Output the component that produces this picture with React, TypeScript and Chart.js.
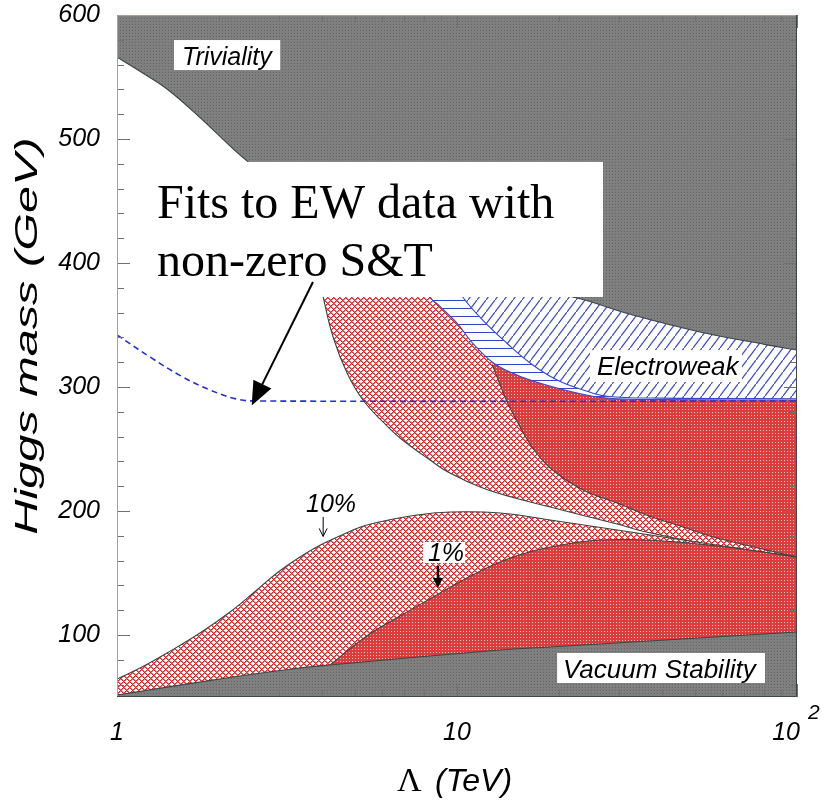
import React, { useEffect, useRef } from "react";
import { Chart, registerables } from "chart.js";
Chart.register(...registerables);

type Pt = [number, number];

// x: Λ (TeV), y: Higgs mass (GeV)
const TRIVIALITY: Pt[] = [[1, 566], [1.184, 553.6], [1.403, 540.3], [1.754, 517.3], [2.41, 482.3], [4.23, 430.6], [8.33, 396], [13.4, 382], [21.9, 372.6], [32.9, 358], [51.8, 344.4], [81.6, 334], [100, 329.8]];
const EW_UPPER: Pt[] = [[9.5, 392], [10.4, 372.6], [11.9, 354], [14.0, 335.5], [16.4, 319.4], [19.7, 305.6], [23.5, 297.6], [27.6, 292.5], [40, 291], [100, 290.5]];
const EW_LOWER: Pt[] = [[7.8, 390], [8.33, 372.6], [8.91, 365], [10.0, 351.6], [11.1, 335.5], [12.8, 319.4], [15.0, 309.7], [17.5, 303.2], [21.9, 296], [27.6, 291.1], [40, 289.8], [100, 289.5]];
const FINE_EDGE: Pt[] = [[12.7, 318], [13.4, 301.6], [14.0, 288.7], [15.0, 272.6], [16.7, 250.8], [18.8, 234.7], [23.5, 216.9], [29.6, 206.5], [36.0, 196.8], [46.2, 187.1], [58.2, 178.2], [100, 162.9]];
const EW_10PCT: Pt[] = [[3.96, 386], [4.04, 372.6], [4.32, 340.3], [4.75, 311.3], [5.29, 289.5], [6.06, 271.8], [6.80, 258.9], [8.33, 241.1], [9.53, 230.6], [11.9, 218.5], [15.0, 210.1], [18.8, 203.2], [23.5, 196.4], [29.6, 189.5], [36.0, 183.1], [58.2, 171.8], [100, 162.9]];
const VS_10PCT: Pt[] = [[1, 64.5], [1.184, 74.2], [1.403, 85.5], [1.754, 101.6], [2.19, 120.2], [2.547, 135.1], [2.955, 150], [3.383, 161.3], [3.87, 171], [4.59, 180.6], [5.43, 188.7], [7.63, 196.8], [9.53, 199.2], [13.4, 198.4], [18.8, 192.7], [29.6, 184.7], [46.2, 176.6], [72.7, 168.5], [100, 162.9]];
const VS_1PCT: Pt[] = [[4.23, 75.8], [5.43, 99.2], [6.80, 115.3], [8.50, 130.6], [10.7, 146], [13.4, 158.9], [16.7, 167.7], [21.07, 173.4], [26.3, 176.6], [36.0, 176.6], [58.2, 171.8], [100, 162.9]];
const VACUUM: Pt[] = [[1, 51.6], [2.19, 66.1], [3.45, 73.4], [4.23, 75.8], [13.4, 87.9], [18.8, 90.3], [100, 102.4]];
const EW_FIT: Pt[] = [[1, 342], [1.25, 324.2], [1.563, 308], [1.877, 297.6], [2.25, 290.3], [2.6, 288.7], [100, 288.7]];

const Y_TICKS = [100, 200, 300, 400, 500, 600];
const Y_MINOR = [60, 80, 120, 140, 160, 180, 220, 240, 260, 280, 320, 340, 360, 380, 420, 440, 460, 480, 520, 540, 560, 580];
const X_TICKS = [1, 10, 100];
const X_LABELS = ["1", "10", "10"];
const X_MINOR = [2, 3, 4, 5, 6, 7, 8, 9, 20, 30, 40, 50, 60, 70, 80, 90];

const SANS = '"Liberation Sans", Arial, sans-serif';
const SERIF = '"Liberation Serif", "Times New Roman", serif';

function tile(ctx: CanvasRenderingContext2D, w: number, h: number, draw: (g: CanvasRenderingContext2D) => void) {
  const c = document.createElement("canvas");
  c.width = w;
  c.height = h;
  const g = c.getContext("2d") as CanvasRenderingContext2D;
  draw(g);
  return ctx.createPattern(c, "repeat") as CanvasPattern;
}

function pix(g: CanvasRenderingContext2D, w: number, h: number, fn: (x: number, y: number) => string) {
  for (let y = 0; y < h; y++) for (let x = 0; x < w; x++) { g.fillStyle = fn(x, y); g.fillRect(x, y, 1, 1); }
}

const toXY = (a: Pt[]) => a.map(([x, y]) => ({ x, y }));

export default function App() {
  const ref = useRef<HTMLCanvasElement>(null);
  useEffect(() => {
    const canvas = ref.current!;
    const ctx = canvas.getContext("2d")!;
    const gray = tile(ctx, 3, 3, (g) => pix(g, 3, 3, (x, y) => (x === 0 && y === 0 ? "#5e6666" : (x + y) % 2 === 0 ? "#7c7c7c" : "#858282")));
    const light = tile(ctx, 6, 6, (g) => pix(g, 6, 6, (x, y) => {
      const a = (x + y) % 6, b = (x - y + 12) % 6;
      if (a === 0 || b === 0) return "#d82626";
      if (a === 1 || b === 1) return "#e87878";
      return "#ffffff";
    }));
    const dense = tile(ctx, 3, 3, (g) => pix(g, 3, 3, (x, y) => (x === 1 && y === 1 ? "#f6c8c8" : "#dc3c3c")));
    const blueDiag = tile(ctx, 9, 12, (g) => {
      g.fillStyle = "#fff"; g.fillRect(0, 0, 9, 12);
      g.strokeStyle = "#3447cc"; g.lineWidth = 1.2;
      g.beginPath(); g.moveTo(-9, 24); g.lineTo(18, -12); g.stroke();
    });
    const blueHoriz = tile(ctx, 8, 8, (g) => {
      g.fillStyle = "#fff"; g.fillRect(0, 0, 8, 8);
      g.fillStyle = "#3447cc"; g.fillRect(0, 4, 8, 1);
    });

    const edge = "#3a4444";
    const blue = "#3447cc";
    const base = { pointRadius: 0, borderWidth: 1.1, tension: 0.4 };

    const overlay = {
      id: "overlay",
      afterDatasetsDraw(chart: any) {
        const c: CanvasRenderingContext2D = chart.ctx;
        const xs = chart.scales.x, ys = chart.scales.y;
        const X = (v: number) => xs.getPixelForValue(v);
        const Y = (v: number) => ys.getPixelForValue(v);
        c.save();
        const box = (x1: number, y1: number, x2: number, y2: number) => {
          c.fillStyle = "#fff";
          c.fillRect(X(x1), Y(y1), X(x2) - X(x1), Y(y2) - Y(y1));
        };
        const text = (s: string, x: number, y: number, font: string, align: CanvasTextAlign = "left") => {
          c.fillStyle = "#000"; c.font = font; c.textAlign = align; c.textBaseline = "alphabetic";
          c.fillText(s, X(x), Y(y));
        };
        const arrow = (x1: number, y1: number, x2: number, y2: number, lw: number, hl: number, hw: number, open: boolean) => {
          const ax = X(x1), ay = Y(y1), bx = X(x2), by = Y(y2);
          const ang = Math.atan2(by - ay, bx - ax);
          c.strokeStyle = "#000"; c.fillStyle = "#000"; c.lineWidth = lw;
          c.beginPath(); c.moveTo(ax, ay);
          c.lineTo(open ? bx : bx - Math.cos(ang) * hl * 0.8, open ? by : by - Math.sin(ang) * hl * 0.8);
          c.stroke();
          const px = bx - Math.cos(ang) * hl, py = by - Math.sin(ang) * hl;
          const nx = -Math.sin(ang) * hw, ny = Math.cos(ang) * hw;
          c.beginPath();
          c.moveTo(px + nx, py + ny); c.lineTo(bx, by); c.lineTo(px - nx, py - ny);
          if (open) { c.stroke(); } else { c.closePath(); c.fill(); }
        };
        // labels inside the plot
        box(1.471, 579.8, 3.02, 555.6);
        text("Triviality", 1.553, 559.7, `italic 25px ${SANS}`);
        box(24.6, 329.8, 68.9, 304.0);
        text("Electroweak", 25.8, 309.7, `italic 26px ${SANS}`);
        box(19.7, 85.5, 80.5, 61.3);
        text("Vacuum Stability", 20.5, 65.3, `italic 26px ${SANS}`);
        text("10%", 4.26, 199.2, `italic 25px ${SANS}`, "center");
        arrow(4.04, 195.2, 4.04, 179.5, 1, 8, 4, true);
        box(7.94, 175.0, 10.56, 158.1);
        text("1%", 9.28, 159.7, `italic 25px ${SANS}`, "center");
        arrow(8.79, 155.6, 8.79, 137.9, 2.5, 10, 5, false);
        // big annotation
        box(1.092, 481.5, 26.88, 372.6);
        text("Fits to EW data with", 1.311, 436.3, `48px ${SERIF}`);
        text("non-zero S&T", 1.311, 389.5, `48px ${SERIF}`);
        arrow(3.77, 384.7, 2.49, 285, 2, 24, 10, false);
        c.restore();
      },
      afterDraw(chart: any) {
        const c: CanvasRenderingContext2D = chart.ctx;
        const xs = chart.scales.x, ys = chart.scales.y;
        const { left, right, top, bottom } = chart.chartArea;
        c.save();
        c.lineWidth = 1;
        c.strokeStyle = "#6a7272";
        c.beginPath();
        for (const v of Y_TICKS) { const y = Math.round(ys.getPixelForValue(v)) + 0.5; c.moveTo(left, y); c.lineTo(left + 13, y); c.moveTo(right, y); c.lineTo(right - 13, y); }
        for (const v of Y_MINOR) { const y = Math.round(ys.getPixelForValue(v)) + 0.5; c.moveTo(left, y); c.lineTo(left + 7, y); c.moveTo(right, y); c.lineTo(right - 7, y); }
        for (const v of X_TICKS) { const x = Math.round(xs.getPixelForValue(v)) + 0.5; c.moveTo(x, bottom); c.lineTo(x, bottom - 13); c.moveTo(x, top); c.lineTo(x, top + 13); }
        for (const v of X_MINOR) { const x = Math.round(xs.getPixelForValue(v)) + 0.5; c.moveTo(x, bottom); c.lineTo(x, bottom - 7); c.moveTo(x, top); c.lineTo(x, top + 7); }
        c.stroke();
        // frame
        c.strokeStyle = "#d98a8a";
        c.beginPath(); c.moveTo(left + 0.5, bottom); c.lineTo(left + 0.5, top + 0.5); c.lineTo(right, top + 0.5); c.stroke();
        c.strokeStyle = "#3f4848";
        c.beginPath(); c.moveTo(right - 0.5, top); c.lineTo(right - 0.5, bottom - 0.5); c.lineTo(left, bottom - 0.5); c.stroke();
        // x tick labels
        c.fillStyle = "#000";
        c.font = `italic 25px ${SANS}`;
        c.textBaseline = "alphabetic";
        X_TICKS.forEach((v, i) => {
          const x = xs.getPixelForValue(v);
          if (i === X_TICKS.length - 1) {
            c.textAlign = "right"; c.fillText(X_LABELS[i], x + 3, 740);
            c.font = `italic 21px ${SANS}`; c.textAlign = "left"; c.fillText("2", x + 11, 719);
            c.font = `italic 25px ${SANS}`;
          } else {
            c.textAlign = "center"; c.fillText(X_LABELS[i], x, 740);
          }
        });
        // axis titles
        c.textAlign = "left";
        c.font = `34px ${SERIF}`;
        c.fillText("\u039B", 397, 791);
        c.font = `italic 32px ${SANS}`;
        c.fillText("(TeV)", 435, 791);
        c.save();
        c.translate(37, 336);
        c.rotate(-Math.PI / 2);
        c.scale(1.52, 1);
        c.textAlign = "center";
        c.font = `italic 32px ${SANS}`;
        c.fillText("Higgs mass (GeV)", 0, 0);
        c.restore();
        c.restore();
      },
    };

    const chart = new Chart(canvas, {
      type: "line",
      data: {
        datasets: [
          { ...base, label: "EW 10% band", data: toXY(EW_10PCT), borderColor: edge, backgroundColor: light, fill: "end", order: 20 },
          { ...base, label: "EW fine band", data: toXY(FINE_EDGE), borderColor: edge, backgroundColor: dense, fill: "end", order: 19 },
          { ...base, label: "EW lower", data: toXY(EW_LOWER), borderColor: blue, backgroundColor: blueHoriz, fill: "end", order: 18 },
          { ...base, label: "EW upper", data: toXY(EW_UPPER), borderColor: blue, backgroundColor: blueDiag, fill: "end", order: 17 },
          { ...base, label: "Triviality", data: toXY(TRIVIALITY), borderColor: edge, backgroundColor: gray, fill: "end", order: 16 },
          { ...base, label: "10%", data: toXY(VS_10PCT), borderColor: edge, backgroundColor: light, fill: "start", order: 15 },
          { ...base, label: "1%", data: toXY(VS_1PCT), borderColor: edge, backgroundColor: dense, fill: "start", order: 14 },
          { ...base, label: "Vacuum Stability", data: toXY(VACUUM), borderColor: edge, backgroundColor: gray, fill: "start", order: 13 },
          { ...base, label: "EW fit", data: toXY(EW_FIT), borderColor: "#2230d8", borderWidth: 1.6, borderDash: [6, 4], fill: false, order: 1 },
        ] as any,
      },
      options: {
        responsive: false,
        maintainAspectRatio: false,
        animation: false,
        layout: { padding: { left: 0, top: 15, right: 35, bottom: 104 } },
        plugins: { legend: { display: false }, tooltip: { enabled: false } },
        scales: {
          x: { type: "logarithmic", min: 1, max: 100, display: false },
          y: {
            type: "linear", min: 50, max: 600,
            grid: { display: false, drawTicks: false },
            border: { display: false },
            afterFit: (s: any) => { s.width = 117; s.paddingTop = 0; s.paddingBottom = 0; },
            afterBuildTicks: (s: any) => { s.ticks = Y_TICKS.map((v) => ({ value: v })); },
            ticks: { padding: 17, color: "#000", font: { family: SANS, size: 25, style: "italic" }, callback: (v: any) => String(v) },
          },
        },
      } as any,
      plugins: [overlay],
    });
    return () => chart.destroy();
  }, []);
  return (
    <div style={{ position: "fixed", left: 0, top: 0, width: 832, height: 801, background: "#fff" }}>
      <canvas ref={ref} width={832} height={801} style={{ display: "block" }} />
    </div>
  );
}
